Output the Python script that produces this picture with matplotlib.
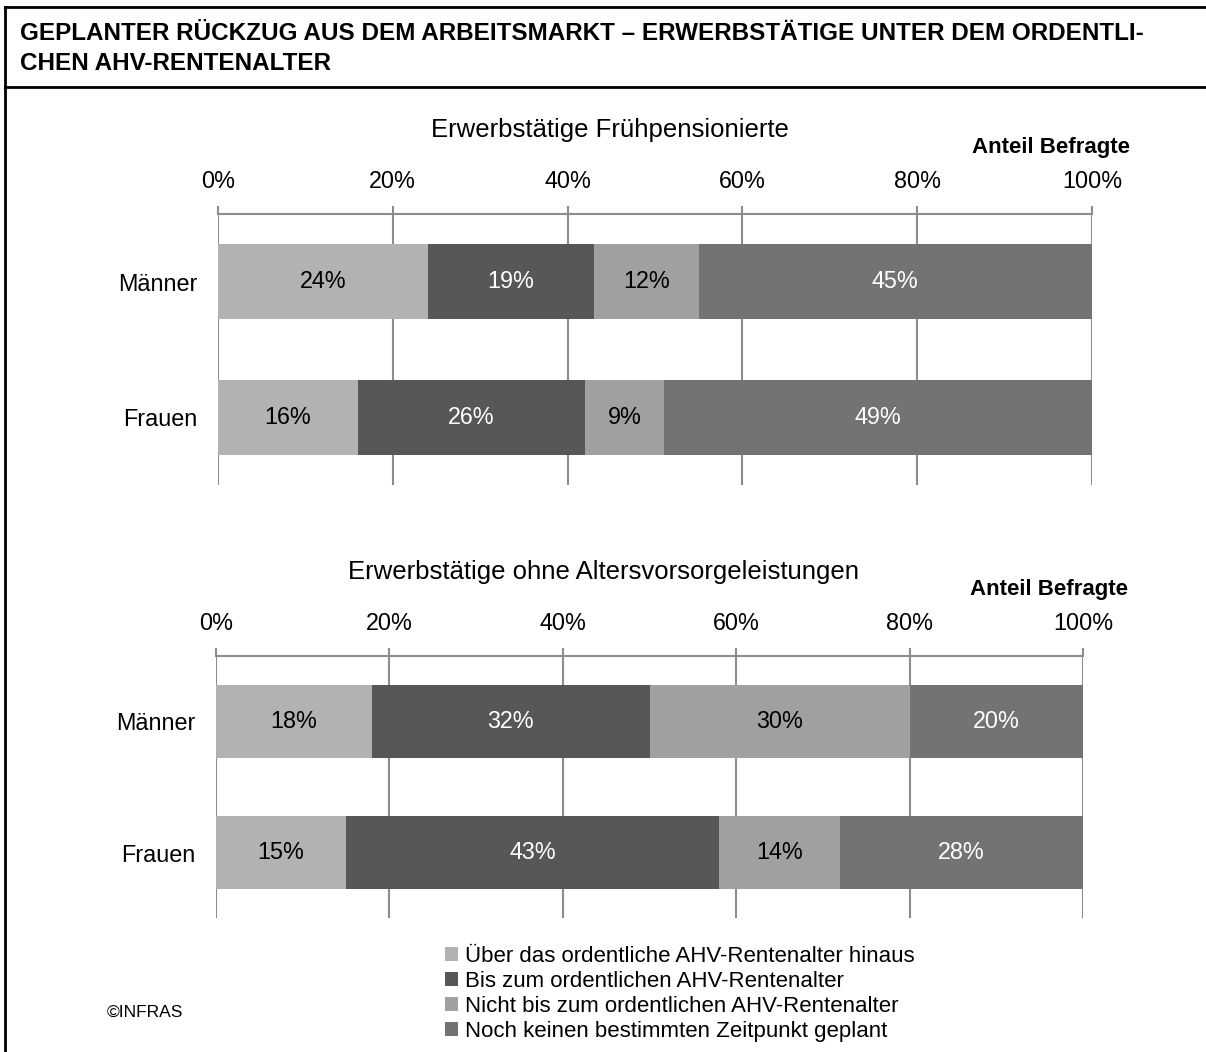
import numpy as np
import matplotlib.pyplot as plt
from matplotlib.lines import Line2D
from matplotlib.patches import Patch

plt.rcParams.update({
    "font.family": ["Liberation Sans", "DejaVu Sans"],
    "font.size": 14,
})

# ---------------- data ----------------
groups = ["Männer", "Frauen"]
series = [
    "Über das ordentliche AHV-Rentenalter hinaus",
    "Bis zum ordentlichen AHV-Rentenalter",
    "Nicht bis zum ordentlichen AHV-Rentenalter",
    "Noch keinen bestimmten Zeitpunkt geplant",
]
# rows: Männer, Frauen ; columns: the four series
fruehpens = [[24, 19, 12, 45],
             [16, 26, 9, 49]]
ohne_leist = [[18, 32, 30, 20],
              [15, 43, 14, 28]]
panel_titles = ["Erwerbstätige Frühpensionierte",
                "Erwerbstätige ohne Altersvorsorgeleistungen"]
ticks = [0, 20, 40, 60, 80, 100]

colors = ["#b2b2b2", "#575757", "#a0a0a0", "#737373"]
text_colors = ["black", "white", "black", "white"]

W, H = 1206, 1052
fig = plt.figure(figsize=(W / 100, H / 100), dpi=100)


def fx(px):
    return px / W


def fy(py):
    return 1 - py / H


# frame and header
fig.add_artist(Line2D([fx(5), fx(5)], [fy(7), 0], color="black", lw=2))
fig.add_artist(Line2D([fx(5), 1], [fy(7), fy(7)], color="black", lw=2))
fig.add_artist(Line2D([fx(5), 1], [fy(87), fy(87)], color="black", lw=2))
fig.text(fx(20), fy(33), "GEPLANTER RÜCKZUG AUS DEM ARBEITSMARKT – ERWERBSTÄTIGE UNTER DEM ORDENTLI-",
         fontsize=17.5, fontweight="bold", va="center", ha="left")
fig.text(fx(20), fy(63), "CHEN AHV-RENTENALTER",
         fontsize=17.5, fontweight="bold", va="center", ha="left")

FS = 16.8


def draw_panel(rect, data, title, title_xy, anteil_xy):
    ax = fig.add_axes(rect)
    data = np.array(data)
    y = np.arange(len(groups))
    left = np.zeros(len(groups))
    for j in range(data.shape[1]):
        vals = data[:, j]
        ax.barh(y, vals, left=left, height=0.55, color=colors[j], zorder=2)
        for i, v in enumerate(vals):
            ax.text(left[i] + v / 2, y[i], f"{v}%", ha="center", va="center",
                    color=text_colors[j], fontsize=FS, zorder=3)
        left = left + vals
    ax.set_xlim(0, 100)
    ax.set_ylim(1.5, -0.5)
    ax.set_yticks(y)
    ax.set_yticklabels(groups, fontsize=FS)
    ax.tick_params(axis="y", length=0, pad=15)
    ax.xaxis.tick_top()
    ax.set_xticks(ticks)
    ax.set_xticklabels([f"{t}%" for t in ticks], fontsize=FS)
    ax.tick_params(axis="x", direction="out", length=6, width=1.5,
                   color="#8c8c8c", pad=9)
    ax.grid(axis="x", color="#8c8c8c", lw=1.5, zorder=1)
    for s in ["left", "right", "bottom"]:
        ax.spines[s].set_visible(False)
    ax.spines["top"].set_color("#8c8c8c")
    ax.spines["top"].set_linewidth(1.5)
    fig.text(fx(title_xy[0]), fy(title_xy[1]), title, fontsize=18.5,
             ha="center", va="center")
    fig.text(fx(anteil_xy[0]), fy(anteil_xy[1]), "Anteil Befragte", fontsize=16,
             fontweight="bold", ha="right", va="center")
    return ax


draw_panel([fx(218), fy(485), fx(1092 - 218), (485 - 214) / H],
           fruehpens, panel_titles[0], (610, 130), (1130, 148))
draw_panel([fx(216), fy(918), fx(1083 - 216), (918 - 656) / H],
           ohne_leist, panel_titles[1], (603, 572), (1128, 590))

handles = [Patch(facecolor=c, edgecolor="none") for c in colors]
fig.legend(handles, series, loc="upper left", bbox_to_anchor=(fx(445), fy(946)),
           frameon=False, fontsize=16, handlelength=0.6, handleheight=0.6,
           handletextpad=0.3, labelspacing=0.18, borderpad=0, borderaxespad=0)

fig.text(fx(145), fy(1012), "©INFRAS", fontsize=12.5, ha="center", va="center")

fig.savefig("out.png", dpi=100)
